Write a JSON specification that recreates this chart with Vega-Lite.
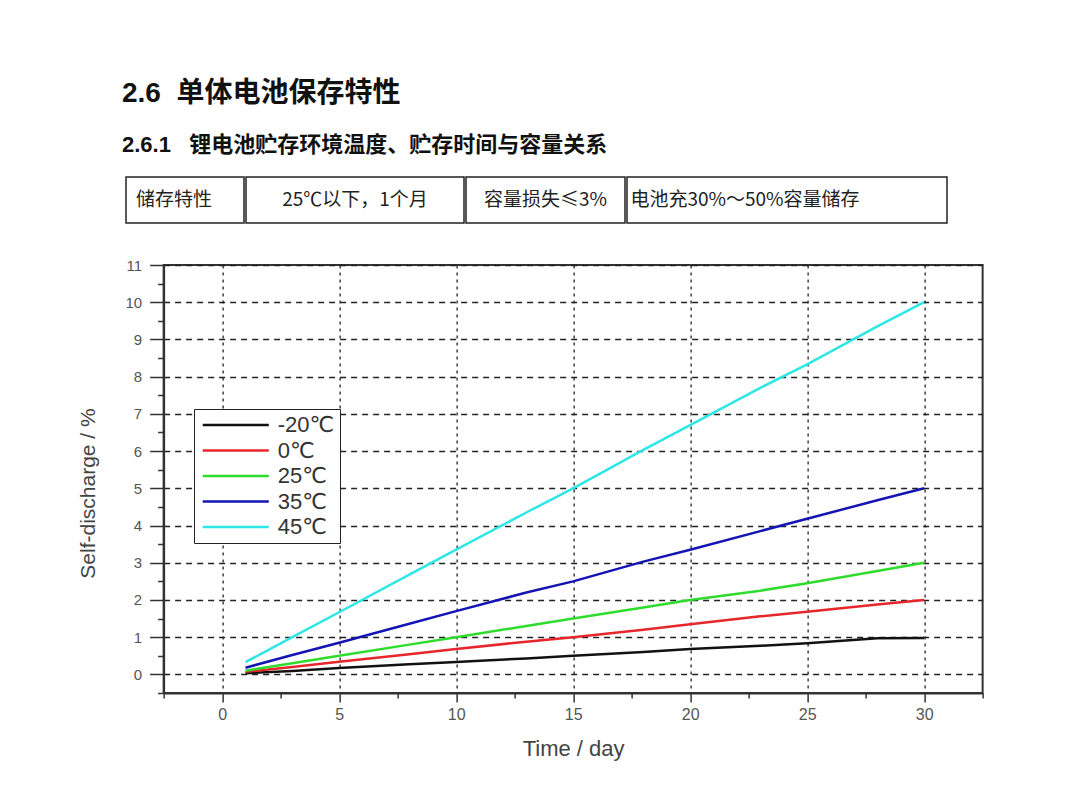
{
  "$schema": "https://vega.github.io/schema/vega-lite/v6.json",
  "background": "white",
  "padding": {"left": 76, "top": 80, "right": 97, "bottom": 46},
  "title": {
    "text": "2.6\u00a0\u00a0单体电池保存特性",
    "subtitle": "2.6.1\u00a0\u00a0\u00a0锂电池贮存环境温度、贮存时间与容量关系",
    "anchor": "start",
    "frame": "bounds",
    "dx": 45,
    "font": "Liberation Sans, Noto Sans CJK SC",
    "fontSize": 28,
    "fontWeight": "bold",
    "color": "#111",
    "subtitleFont": "Liberation Sans, Noto Sans CJK SC",
    "subtitleFontSize": 22,
    "subtitleFontWeight": "bold",
    "subtitleColor": "#111",
    "subtitlePadding": 27,
    "offset": 20
  },
  "spacing": 33,
  "center": true,
  "vconcat": [
    {
      "spacing": 0,
      "hconcat": [
        {
          "width": 118, "height": 46,
          "view": {"stroke": "#222", "strokeWidth": 1.5},
          "data": {"values": [{"t": "储存特性"}]},
          "mark": {"type": "text", "font": "Noto Sans CJK SC", "fontSize": 19, "color": "#222", "dx": -11},
          "encoding": {"text": {"field": "t"}}
        },
        {
          "width": 218, "height": 46,
          "view": {"stroke": "#222", "strokeWidth": 1.5},
          "data": {"values": [{"t": "25℃以下，1个月"}]},
          "mark": {"type": "text", "font": "Noto Sans CJK SC", "fontSize": 19, "color": "#222"},
          "encoding": {"text": {"field": "t"}}
        },
        {
          "width": 159, "height": 46,
          "view": {"stroke": "#222", "strokeWidth": 1.5},
          "data": {"values": [{"t": "容量损失≤3%"}]},
          "mark": {"type": "text", "font": "Noto Sans CJK SC", "fontSize": 19, "color": "#222"},
          "encoding": {"text": {"field": "t"}}
        },
        {
          "width": 320, "height": 46,
          "view": {"stroke": "#222", "strokeWidth": 1.5},
          "data": {"values": [{"t": "电池充30%～50%容量储存"}]},
          "mark": {"type": "text", "font": "Noto Sans CJK SC", "fontSize": 19, "color": "#222", "dx": -42},
          "encoding": {"text": {"field": "t"}}
        },
        {
          "width": 74, "height": 46,
          "view": {"stroke": null},
          "data": {"values": [{"t": ""}]},
          "mark": {"type": "text"},
          "encoding": {"text": {"field": "t"}}
        }
      ]
    },
    {
      "width": 819,
      "height": 428,
      "data": {
        "values": [
          {"temp": "-20℃", "day": 1, "discharge": 0.03},
          {"temp": "-20℃", "day": 3, "discharge": 0.09},
          {"temp": "-20℃", "day": 5, "discharge": 0.17},
          {"temp": "-20℃", "day": 8, "discharge": 0.27},
          {"temp": "-20℃", "day": 10, "discharge": 0.33},
          {"temp": "-20℃", "day": 13, "discharge": 0.43},
          {"temp": "-20℃", "day": 15, "discharge": 0.5},
          {"temp": "-20℃", "day": 18, "discharge": 0.6},
          {"temp": "-20℃", "day": 20, "discharge": 0.68},
          {"temp": "-20℃", "day": 23, "discharge": 0.77},
          {"temp": "-20℃", "day": 25, "discharge": 0.84},
          {"temp": "-20℃", "day": 28, "discharge": 0.97},
          {"temp": "-20℃", "day": 30, "discharge": 0.98},
          {"temp": "0℃", "day": 1, "discharge": 0.07},
          {"temp": "0℃", "day": 3, "discharge": 0.2},
          {"temp": "0℃", "day": 5, "discharge": 0.34},
          {"temp": "0℃", "day": 8, "discharge": 0.54},
          {"temp": "0℃", "day": 10, "discharge": 0.68},
          {"temp": "0℃", "day": 13, "discharge": 0.88},
          {"temp": "0℃", "day": 15, "discharge": 1.0},
          {"temp": "0℃", "day": 18, "discharge": 1.2},
          {"temp": "0℃", "day": 20, "discharge": 1.35},
          {"temp": "0℃", "day": 23, "discharge": 1.56},
          {"temp": "0℃", "day": 25, "discharge": 1.68},
          {"temp": "0℃", "day": 28, "discharge": 1.88},
          {"temp": "0℃", "day": 30, "discharge": 2.0},
          {"temp": "25℃", "day": 1, "discharge": 0.1},
          {"temp": "25℃", "day": 3, "discharge": 0.3},
          {"temp": "25℃", "day": 5, "discharge": 0.5},
          {"temp": "25℃", "day": 8, "discharge": 0.8},
          {"temp": "25℃", "day": 10, "discharge": 1.0},
          {"temp": "25℃", "day": 13, "discharge": 1.3},
          {"temp": "25℃", "day": 15, "discharge": 1.5},
          {"temp": "25℃", "day": 18, "discharge": 1.8},
          {"temp": "25℃", "day": 20, "discharge": 2.0},
          {"temp": "25℃", "day": 23, "discharge": 2.25},
          {"temp": "25℃", "day": 25, "discharge": 2.45},
          {"temp": "25℃", "day": 28, "discharge": 2.78},
          {"temp": "25℃", "day": 30, "discharge": 3.0},
          {"temp": "35℃", "day": 1, "discharge": 0.18},
          {"temp": "35℃", "day": 3, "discharge": 0.52},
          {"temp": "35℃", "day": 5, "discharge": 0.85},
          {"temp": "35℃", "day": 8, "discharge": 1.36},
          {"temp": "35℃", "day": 10, "discharge": 1.7},
          {"temp": "35℃", "day": 13, "discharge": 2.2},
          {"temp": "35℃", "day": 15, "discharge": 2.5},
          {"temp": "35℃", "day": 18, "discharge": 3.03},
          {"temp": "35℃", "day": 20, "discharge": 3.35},
          {"temp": "35℃", "day": 23, "discharge": 3.85},
          {"temp": "35℃", "day": 25, "discharge": 4.18},
          {"temp": "35℃", "day": 28, "discharge": 4.68},
          {"temp": "35℃", "day": 30, "discharge": 5.0},
          {"temp": "45℃", "day": 1, "discharge": 0.33},
          {"temp": "45℃", "day": 3, "discharge": 1.0},
          {"temp": "45℃", "day": 5, "discharge": 1.67},
          {"temp": "45℃", "day": 8, "discharge": 2.68},
          {"temp": "45℃", "day": 10, "discharge": 3.35},
          {"temp": "45℃", "day": 13, "discharge": 4.35},
          {"temp": "45℃", "day": 15, "discharge": 5.0},
          {"temp": "45℃", "day": 18, "discharge": 6.03},
          {"temp": "45℃", "day": 20, "discharge": 6.7},
          {"temp": "45℃", "day": 23, "discharge": 7.7},
          {"temp": "45℃", "day": 25, "discharge": 8.33},
          {"temp": "45℃", "day": 28, "discharge": 9.35},
          {"temp": "45℃", "day": 30, "discharge": 10.0}
        ]
      },
      "mark": {"type": "line", "strokeWidth": 2.5},
      "encoding": {
        "x": {
          "field": "day",
          "type": "quantitative",
          "scale": {"domain": [-2.5, 32.5], "nice": false, "zero": false},
          "axis": {
            "title": "Time / day",
            "values": [-2.5, 0, 2.5, 5, 7.5, 10, 12.5, 15, 17.5, 20, 22.5, 25, 27.5, 30, 32.5],
            "labelExpr": "datum.value % 5 === 0 ? '' + datum.value : ''",
            "tickSize": {"condition": {"test": "datum.value % 5 !== 0", "value": 5}, "value": 9},
            "gridOpacity": {"condition": {"test": "datum.value % 5 !== 0", "value": 0}, "value": 1},
            "gridDash": [3, 4],
            "labelPadding": 4,
            "labelFontSize": 16,
            "titlePadding": 16,
            "titleFontSize": 22
          }
        },
        "y": {
          "field": "discharge",
          "type": "quantitative",
          "scale": {"domain": [-0.5, 11], "nice": false, "zero": false},
          "axis": {
            "title": "Self-discharge / %",
            "values": [-0.5, 0, 0.5, 1, 1.5, 2, 2.5, 3, 3.5, 4, 4.5, 5, 5.5, 6, 6.5, 7, 7.5, 8, 8.5, 9, 9.5, 10, 10.5, 11],
            "labelExpr": "datum.value % 1 === 0 ? '' + datum.value : ''",
            "tickSize": {"condition": {"test": "datum.value % 1 !== 0", "value": 6}, "value": 14},
            "gridOpacity": {"condition": {"test": "datum.value % 1 !== 0", "value": 0}, "value": 1},
            "gridDash": [6, 5],
            "labelPadding": 8,
            "titlePadding": 26,
            "titleY": 228
          }
        },
        "color": {
          "field": "temp",
          "type": "nominal",
          "scale": {
            "domain": ["-20℃", "0℃", "25℃", "35℃", "45℃"],
            "range": ["#111111", "#e6262b", "#2edc2e", "#1414b4", "#2ee6e6"]
          },
          "legend": {
            "title": null,
            "orient": "none",
            "legendX": 68,
            "legendY": 232,
            "symbolType": "M-3.67,0H3.67",
            "symbolSize": 324,
            "symbolStrokeWidth": 2.5,
            "symbolOffset": 25.75,
            "labelOffset": 31,
            "labelExpr": "datum.label + '\u00a0\u00a0'",
            "labelFont": "Liberation Sans, DejaVu Sans",
            "labelFontSize": 22,
            "labelColor": "#333",
            "labelLimit": 200,
            "rowPadding": 3.5,
            "padding": 5,
            "strokeColor": "#222",
            "fillColor": "white"
          }
        }
      }
    }
  ],
  "config": {
    "view": {"stroke": "#333", "strokeWidth": 2},
    "axis": {
      "domainColor": "#333",
      "domainWidth": 2,
      "tickColor": "#333",
      "tickWidth": 1.5,
      "gridColor": "#222",
      "gridWidth": 1.3,
      "labelFont": "Liberation Sans",
      "labelFontSize": 15,
      "labelColor": "#555",
      "titleFont": "Liberation Sans",
      "titleFontSize": 21,
      "titleFontWeight": "normal",
      "titleColor": "#444"
    }
  }
}
